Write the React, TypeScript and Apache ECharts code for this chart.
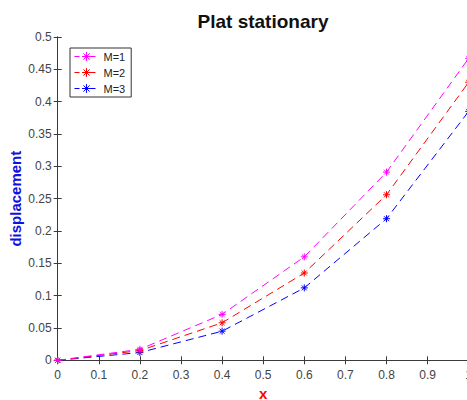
import React, { useEffect, useRef } from "react";
import * as echarts from "echarts";

// Sample positions along the plate
const xValues = [0, 0.2, 0.4, 0.6, 0.8, 1.0];

// Displacement for each number of modes
const seriesNames = ["M=1", "M=2", "M=3"];
const m1Values = [0, 0.017, 0.071, 0.16, 0.291, 0.467];
const m2Values = [0, 0.015, 0.058, 0.135, 0.256, 0.43];
const m3Values = [0, 0.012, 0.045, 0.112, 0.219, 0.385];
const seriesColors = ["#ff00ff", "#ff0000", "#0000ff"];

const titleText = "Plat stationary";
const xName = "x";
const yName = "displacement";

const FONT = 'Arial, "Liberation Sans", Helvetica, sans-serif';
const STAR = "path://M5,0L5,10M0,5L10,5M1.5,1.5L8.5,8.5M1.5,8.5L8.5,1.5";

export default function App() {
  const ref = useRef<HTMLDivElement>(null);

  useEffect(() => {
    if (!ref.current) return;
    const chart = echarts.init(ref.current, undefined, { renderer: "svg" });

    const valuesList = [m1Values, m2Values, m3Values];
    const series = seriesNames.map((name, i) => ({
      name,
      type: "line",
      data: xValues.map((x, j) => [x, valuesList[i][j]]),
      symbol: STAR,
      symbolSize: 7,
      showSymbol: true,
      lineStyle: { color: seriesColors[i], width: 1, type: [8, 5] },
      itemStyle: { color: seriesColors[i], borderColor: seriesColors[i], borderWidth: 1 },
      emphasis: { disabled: true },
      z: 3 - i,
    }));

    const axisLine = { show: true, lineStyle: { color: "#3a3a3a", width: 1 } };
    const tick = { show: true, inside: true, length: 4, lineStyle: { color: "#3a3a3a" } };

    chart.setOption({
      animation: false,
      backgroundColor: "#ffffff",
      grid: {
        left: 57.7,
        top: 37,
        width: 411,
        height: 323.3,
        containLabel: false,
        outerBoundsMode: "none",
      },
      graphic: [
        {
          type: "text",
          x: 263,
          y: 21,
          style: {
            text: titleText,
            fontFamily: FONT,
            fontSize: 19,
            fontWeight: "bold",
            fill: "#111111",
            align: "center",
            verticalAlign: "middle",
          },
        },
      ],
      legend: {
        orient: "vertical",
        left: 70,
        top: 48,
        itemWidth: 24,
        itemHeight: 11,
        itemGap: 5,
        padding: [3, 6, 3, 4],
        borderColor: "#333333",
        borderWidth: 1,
        backgroundColor: "#ffffff",
        lineStyle: { width: 1, type: [5, 3] },
        itemStyle: { borderWidth: 1 },
        textStyle: { fontFamily: FONT, fontSize: 11, color: "#222222" },
        data: seriesNames,
      },
      xAxis: [
        {
          type: "value",
          min: 0,
          max: 1,
          interval: 0.1,
          position: "bottom",
          name: xName,
          nameLocation: "middle",
          nameGap: 26,
          nameMoveOverlap: false,
          nameTextStyle: { fontFamily: FONT, fontSize: 15, fontWeight: "bold", color: "#ff0000" },
          axisLine,
          axisTick: tick,
          axisLabel: { fontFamily: FONT, fontSize: 12, color: "#444444", margin: 9 },
          splitLine: { show: false },
        },
        {
          type: "value",
          min: 0,
          max: 1,
          interval: 0.1,
          position: "top",
          axisLine,
          axisTick: tick,
          axisLabel: { show: false },
          splitLine: { show: false },
        },
      ],
      yAxis: [
        {
          type: "value",
          min: 0,
          max: 0.5,
          interval: 0.05,
          position: "left",
          name: yName,
          nameLocation: "middle",
          nameRotate: 90,
          nameGap: 35,
          nameMoveOverlap: false,
          nameTextStyle: { fontFamily: FONT, fontSize: 15, fontWeight: "bold", color: "#1010e0" },
          axisLine,
          axisTick: tick,
          axisLabel: { fontFamily: FONT, fontSize: 12, color: "#444444", margin: 6 },
          splitLine: { show: false },
        },
        {
          type: "value",
          min: 0,
          max: 0.5,
          interval: 0.05,
          position: "right",
          axisLine,
          axisTick: tick,
          axisLabel: { show: false },
          splitLine: { show: false },
        },
      ],
      series,
    });

    return () => chart.dispose();
  }, []);

  return (
    <div
      ref={ref}
      style={{ position: "fixed", left: 0, top: 0, width: 467, height: 400, background: "#fff" }}
    />
  );
}
